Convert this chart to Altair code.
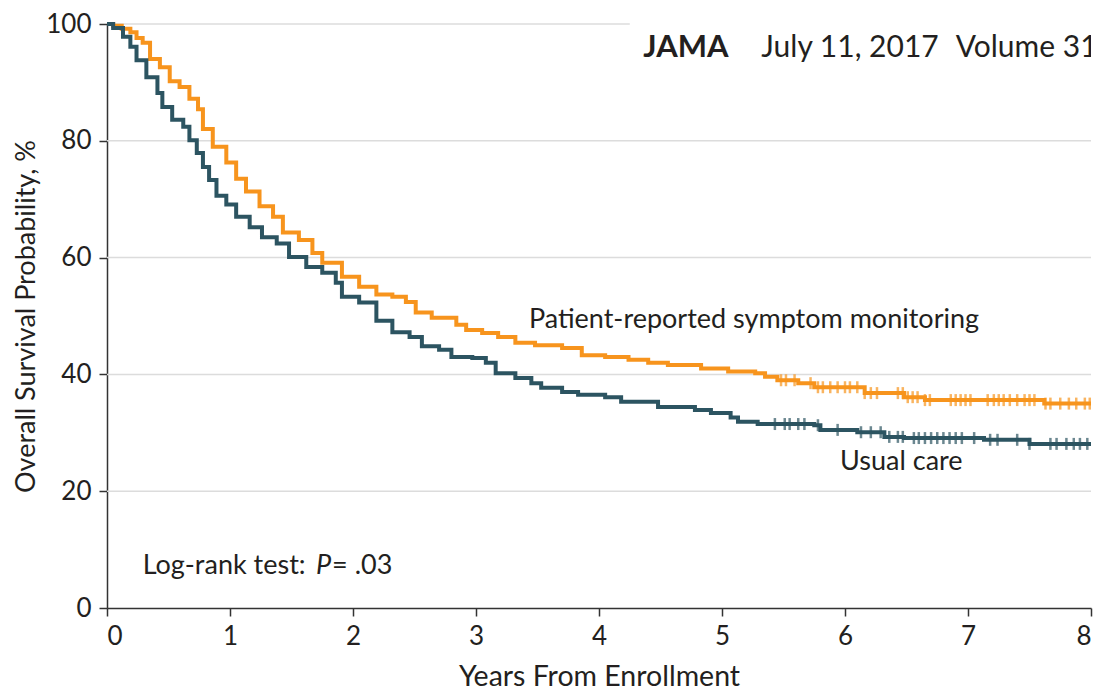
import altair as alt
import numpy as np
import pandas as pd

# ---- data ----
pro_t = [0, 0.05, 0.12, 0.19, 0.24, 0.29, 0.35, 0.43, 0.51, 0.59, 0.67, 0.74, 0.78, 0.86,
         0.97, 1.05, 1.13, 1.24, 1.35, 1.43, 1.56, 1.67, 1.75, 1.91, 2.05, 2.19, 2.32,
         2.43, 2.51, 2.64, 2.84, 2.92, 3.05, 3.18, 3.32, 3.48, 3.70, 3.86, 4.05, 4.24,
         4.40, 4.56, 4.83, 5.05, 5.27, 5.35, 5.45, 5.62, 5.75, 6.16, 6.48, 6.65, 7.62, 8.0]
pro_s = [100, 99.7, 99.2, 98.6, 97.6, 96.8, 94.0, 92.6, 90.2, 89.2, 87.2, 85.4, 82.0, 79.0,
         76.3, 73.5, 71.3, 68.8, 67.0, 64.3, 63.0, 60.8, 59.1, 56.7, 55.0, 53.7, 53.3,
         52.4, 50.6, 49.7, 48.5, 47.6, 47.1, 46.4, 45.4, 45.0, 44.5, 43.3, 43.0, 42.5,
         42.0, 41.6, 41.0, 40.5, 40.2, 39.6, 39.0, 38.5, 37.8, 36.8, 36.1, 35.6, 35.0, 35.0]

uc_t = [0, 0.05, 0.13, 0.19, 0.24, 0.32, 0.41, 0.45, 0.53, 0.62, 0.67, 0.73, 0.78, 0.83,
        0.89, 0.97, 1.05, 1.16, 1.26, 1.38, 1.48, 1.62, 1.75, 1.86, 1.91, 2.05, 2.19,
        2.32, 2.46, 2.56, 2.70, 2.80, 2.97, 3.08, 3.16, 3.32, 3.45, 3.53, 3.70, 3.83,
        4.05, 4.18, 4.48, 4.78, 4.91, 5.07, 5.13, 5.29, 5.75, 5.80, 6.10, 6.32, 6.48,
        7.13, 7.50, 8.0]
uc_s = [100, 99.3, 97.8, 96.1, 93.8, 90.9, 88.2, 85.8, 83.6, 82.4, 80.1, 77.9, 75.5, 73.3,
        70.6, 69.1, 67.0, 65.2, 63.5, 62.4, 60.1, 58.4, 57.4, 55.7, 53.3, 52.3, 49.2,
        47.2, 46.4, 44.8, 44.2, 43.0, 42.8, 42.0, 40.2, 39.4, 38.5, 37.7, 37.0, 36.5,
        36.1, 35.3, 34.4, 33.9, 33.4, 32.6, 31.9, 31.5, 31.3, 30.5, 30.1, 29.3, 29.1,
        28.8, 28.1, 28.1]

pro_censor = [5.48, 5.52, 5.59, 5.72, 5.78, 5.82, 5.88, 5.94, 6.00, 6.04, 6.10, 6.16, 6.21,
              6.26, 6.43, 6.47, 6.51, 6.55, 6.59, 6.65, 6.69, 6.86, 6.90, 6.94, 6.98, 7.02,
              7.16, 7.21, 7.25, 7.29, 7.34, 7.40, 7.46, 7.50, 7.54, 7.63, 7.67, 7.75, 7.82,
              7.88, 7.95, 7.99]
uc_censor = [5.43, 5.51, 5.55, 5.62, 5.67, 5.78, 5.94, 6.13, 6.21, 6.29, 6.36, 6.43, 6.47,
             6.56, 6.60, 6.65, 6.70, 6.75, 6.80, 6.85, 6.90, 6.95, 7.05, 7.18, 7.24, 7.40,
             7.50, 7.67, 7.72, 7.80, 7.86, 7.91, 7.97]

groups = ["Patient-reported symptom monitoring", "Usual care"]
colors = ["#F7941D", "#2C5461"]
x_ticks = [0, 1, 2, 3, 4, 5, 6, 7, 8]
y_ticks = [0, 20, 40, 60, 80, 100]
grid_y = [20, 40, 60, 80]

FONT = "Lato"
TXT = "#231F20"


def step_value(ts, ss, t):
    i = np.searchsorted(np.array(ts), t, side="right") - 1
    return ss[max(i, 0)]


curves = pd.concat([
    pd.DataFrame({"t": pro_t, "s": pro_s, "g": groups[0]}),
    pd.DataFrame({"t": uc_t, "s": uc_s, "g": groups[1]}),
])
censor = pd.concat([
    pd.DataFrame({"t": pro_censor, "s": [step_value(pro_t, pro_s, c) for c in pro_censor], "g": groups[0]}),
    pd.DataFrame({"t": uc_censor, "s": [step_value(uc_t, uc_s, c) for c in uc_censor], "g": groups[1]}),
])

xsc = alt.Scale(domain=[0, 8], nice=False, zero=False)
ysc = alt.Scale(domain=[0, 100], nice=False)
csc = alt.Scale(domain=groups, range=colors)

xax = alt.Axis(values=x_ticks, format="d", title="Years From Enrollment", grid=False,
               labelFontSize=26, titleFontSize=28.5, titleFontWeight="normal", titlePadding=13,
               tickSize=8, labelPadding=7, domainColor="#333", tickColor="#333",
               domainWidth=1.5, tickWidth=1.5, labelColor=TXT, titleColor=TXT,
               labelFont=FONT, titleFont=FONT)
yax = alt.Axis(values=y_ticks, format="d", title="Overall Survival Probability, %", grid=False,
               labelFontSize=26, titleFontSize=27, titleFontWeight="normal", titlePadding=5,
               tickSize=8, labelPadding=8, domainColor="#333", tickColor="#333",
               domainWidth=1.5, tickWidth=1.5, labelColor=TXT, titleColor=TXT,
               labelFont=FONT, titleFont=FONT)

grid = alt.Chart(pd.DataFrame({"y": grid_y})).mark_rule(color="#DCDCDC", strokeWidth=1.5).encode(
    y=alt.Y("y:Q", scale=ysc, axis=yax),
)
grid_top = alt.Chart(pd.DataFrame({"y": [100], "x0": [0], "x1": [4.25]})).mark_rule(
    color="#DCDCDC", strokeWidth=1.5).encode(
    y=alt.Y("y:Q", scale=ysc), x=alt.X("x0:Q", scale=xsc, axis=xax), x2="x1:Q")

lines = alt.Chart(curves).mark_line(interpolate="step-after", strokeWidth=4).encode(
    x=alt.X("t:Q", scale=xsc, axis=xax),
    y=alt.Y("s:Q", scale=ysc, axis=yax),
    color=alt.Color("g:N", scale=csc, legend=None),
    detail="g:N",
)
ticks = alt.Chart(censor).mark_tick(orient="vertical", size=12, thickness=2.5).encode(
    x=alt.X("t:Q", scale=xsc),
    y=alt.Y("s:Q", scale=ysc),
    color=alt.Color("g:N", scale=csc, legend=None),
)


def label(text, x, y, size=27, weight="normal", style="normal", clip=False):
    return alt.Chart(pd.DataFrame({"x": [x], "y": [y], "txt": [text]})).mark_text(
        align="left", baseline="middle", font=FONT, fontSize=size, fontWeight=weight,
        fontStyle=style, color=TXT, clip=clip).encode(
        x=alt.X("x:Q", scale=xsc), y=alt.Y("y:Q", scale=ysc), text="txt:N")


texts = [
    label(groups[0], 3.43, 49.3),
    label(groups[1], 5.96, 25.0),
    label("Log-rank test:", 0.29, 7.2),
    label("P", 1.70, 7.2, style="italic"),
    label("= .03", 1.83, 7.2),
    label("JAMA", 4.36, 95.9, size=31, weight="bold", clip=True),
    label("July 11, 2017", 5.32, 95.9, size=30, clip=True),
    label("Volume 318", 6.90, 95.9, size=30, clip=True),
]

chart = alt.layer(grid, grid_top, lines, ticks, *texts).properties(
    width=984, height=584,
    autosize=alt.AutoSizeParams(type="none"),
    padding={"left": 99, "top": 16, "right": 3, "bottom": 82},
    background="white",
).configure_view(stroke=None)

chart.save("out.html", embed_options={"renderer": "svg", "actions": False})
